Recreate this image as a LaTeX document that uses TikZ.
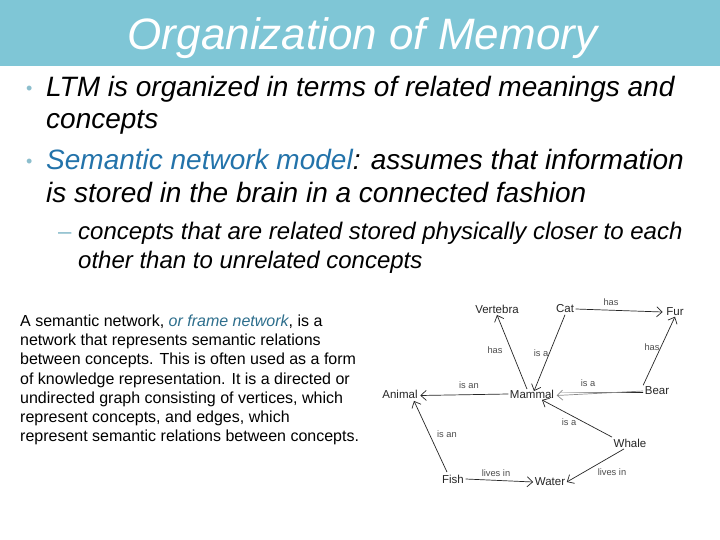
\documentclass[tikz,border=0pt]{standalone}
\usepackage{fontspec}
\setmainfont{Liberation Sans}
\usetikzlibrary{arrows.meta,calc}
\definecolor{titlebar}{RGB}{127,198,214}
\definecolor{bulletc}{RGB}{140,190,205}
\definecolor{semblue}{RGB}{35,115,170}
\definecolor{framec}{RGB}{45,110,140}
\begin{document}
\begin{tikzpicture}[x=1pt,y=-1pt,
  line/.style={anchor=base west, inner sep=0pt},
  big/.style={line, font=\fontsize{28}{33}\selectfont\itshape},
  sub/.style={line, font=\fontsize{24}{29}\selectfont\itshape},
  para/.style={line, font=\fontsize{16}{19}\selectfont},
  concept/.style={font=\fontsize{11.5}{13}\selectfont, text=black!85, inner sep=1.5pt},
  rel/.style={font=\fontsize{9.3}{11}\selectfont, text=black!70, inner sep=0pt},
  link/.style={draw=black!85, line width=0.7pt, -{Straight Barb[length=5.5pt,width=10pt]}},
]
\useasboundingbox (0,0) rectangle (720,540);
\fill[white] (0,0) rectangle (720,540);
\fill[titlebar] (0,0) rectangle (720,66);
\node[anchor=base, inner sep=0pt, text=white, font=\fontsize{44}{50}\selectfont\itshape] (title) at (362.5,49.5) {Organization of Memory};

% bullets
\node[line, text=bulletc, font=\fontsize{18}{20}\selectfont] (b1) at (26,95) {•};
\node[big] (l1) at (46,97) {LTM is organized in terms of related meanings and};
\node[big] (l2) at (46,129) {concepts};
\node[line, text=bulletc, font=\fontsize{18}{20}\selectfont] (b2) at (26,168) {•};
\node[big] (l3) at (46,170) {\textcolor{semblue}{Semantic network model}: assumes that information};
\node[big] (l4) at (46,202.5) {is stored in the brain in a connected fashion};
\node[line, text=bulletc, font=\fontsize{24}{29}\selectfont] (d1) at (58,240) {–};
\node[sub] (s1) at (78,240) {concepts that are related stored physically closer to each};
\node[sub] (s2) at (78,268) {other than to unrelated concepts};

% paragraph
\node[para] (p1) at (20,326.5) {A semantic network, \textcolor{framec}{\itshape or frame network}, is a};
\node[para] (p2) at (20,345.7) {network that represents semantic relations};
\node[para] (p3) at (20,364.9) {between concepts. This is often used as a form};
\node[para] (p4) at (20,384.1) {of knowledge representation. It is a directed or};
\node[para] (p5) at (20,403.3) {undirected graph consisting of vertices, which};
\node[para] (p6) at (20,422.5) {represent concepts, and edges, which};
\node[para] (p7) at (20,441.7) {represent semantic relations between concepts.};

% semantic network
\node[concept] (vert) at (497,309) {Vertebra};
\node[concept] (cat) at (565,309) {Cat};
\node[concept] (fur) at (675,312) {Fur};
\node[concept] (animal) at (400,394) {Animal};
\node[concept] (mammal) at (532,394) {Mammal};
\node[concept] (bear) at (657,391) {Bear};
\node[concept] (whale) at (630,443) {Whale};
\node[concept] (fish) at (453,479) {Fish};
\node[concept] (water) at (550,482) {Water};

\node[rel] (r1) at (611,302) {has};
\node[rel] (r2) at (495,350) {has};
\node[rel] (r3) at (541,353) {is a};
\node[rel] (r4) at (652,347) {has};
\node[rel] (r5) at (469,385) {is an};
\node[rel] (r6) at (588,383) {is a};
\node[rel] (r7) at (569,422) {is a};
\node[rel] (r8) at (447,434) {is an};
\node[rel] (r9) at (496,473) {lives in};
\node[rel] (r10) at (612,472) {lives in};

\draw[link] (cat.east) -- ($(fur.west)+(-2,0)$);
\draw[link] (cat.south) -- ($(mammal.north)+(2,3)$);
\draw[link] ($(mammal.north)+(-5,1)$) -- (vert.south);
\draw[link] (bear.north west) -- ($(fur.south)+(0,-1)$);
\shade[left color=black!15, right color=black!90] ($(mammal.east)+(5,-1.3)$) rectangle ($(bear.west)+(0,1.3)$);
\draw[link, draw=black!45] (bear.west) -- ($(mammal.east)+(1,1.5)$);
\draw[link] (mammal.west) -- ($(animal.east)+(1,1.5)$);
\draw[link] ($(fish.north)+(-6,-1)$) -- ($(animal.south)+(14,1)$);
\draw[link] (whale.north west) -- ($(mammal.south)+(10,0)$);
\draw[link] (fish.east) -- (water.west);
\draw[link] ($(whale.south west)+(12,0)$) -- (water.east);
\end{tikzpicture}
\end{document}
